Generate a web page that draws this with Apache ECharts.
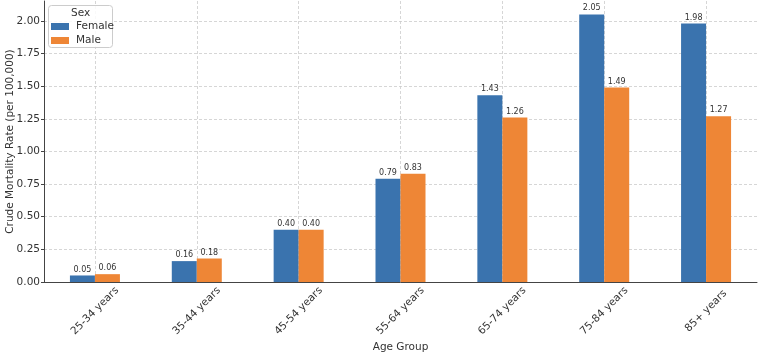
<!DOCTYPE html>
<html>
<head>
<meta charset="utf-8">
<script src="https://cdn.jsdelivr.net/npm/echarts@6/dist/echarts.min.js"></script>
<style>
  html, body { margin: 0; padding: 0; background: #fff; }
  #chart { width: 760px; height: 354px; }
</style>
</head>
<body>
<div id="chart"></div>
<script>
// data
const ageGroups = ["25-34 years", "35-44 years", "45-54 years", "55-64 years", "65-74 years", "75-84 years", "85+ years"];
const femaleRates = [0.05, 0.16, 0.40, 0.79, 1.43, 2.05, 1.98];
const maleRates = [0.06, 0.18, 0.40, 0.83, 1.26, 1.49, 1.27];
const yTicks = [0, 0.25, 0.5, 0.75, 1, 1.25, 1.5, 1.75, 2];

const FONT = "DejaVu Sans";
const chart = echarts.init(document.getElementById("chart"));

function barSeries(name, data, color) {
    return {
        name: name,
        type: "bar",
        data: data,
        barWidth: 25,
        barGap: "0%",
        itemStyle: { color: color },
        label: {
            show: true,
            position: "top",
            distance: 2,
            fontFamily: FONT,
            fontSize: 8,
            color: "#333",
            formatter: p => p.value.toFixed(2)
        }
    };
}

chart.setOption({
    animation: false,
    textStyle: { fontFamily: FONT },
    grid: { left: 44, right: 3, top: 1, bottom: 72, outerBoundsMode: "none", containLabel: false },
    graphic: [{
        type: "rect",
        left: 48, top: 5,
        shape: { width: 64, height: 42, r: 3 },
        style: { fill: "rgba(255,255,255,0.85)", stroke: "#ccc", lineWidth: 1 },
        z: 10
    }, {
        type: "text",
        left: 71, top: 8,
        style: { text: "Sex", font: "10.5px DejaVu Sans", fill: "#333" },
        z: 11
    }],
    legend: {
        left: 51, top: 21,
        padding: 0,
        orient: "vertical",
        itemWidth: 18, itemHeight: 7,
        itemGap: 3,
        icon: "rect",
        z: 12,
        textStyle: { fontFamily: FONT, fontSize: 10.5, color: "#333", padding: [0, 0, 0, 2] },
        data: ["Female", "Male"]
    },
    xAxis: {
        type: "category",
        data: ageGroups,
        name: "Age Group",
        nameLocation: "middle",
        nameGap: 60,
        nameMoveOverlap: false,
        nameTextStyle: { fontFamily: FONT, fontSize: 10.5, color: "#333" },
        axisLine: { lineStyle: { color: "#444", width: 1 } },
        axisTick: { alignWithLabel: true, length: 3, lineStyle: { color: "#444" } },
        axisLabel: {
            rotate: 45, align: "center", verticalAlign: "middle",
            fontFamily: FONT, fontSize: 10.5, color: "#333", margin: 29
        },
        splitLine: { show: true, alignWithLabel: true, lineStyle: { color: "#ccc", type: [3, 2], width: 0.8 } }
    },
    yAxis: {
        type: "value",
        min: 0,
        max: 2.1525,
        interval: 0.25,
        name: "Crude Mortality Rate (per 100,000)",
        nameLocation: "middle",
        nameGap: 28,
        nameMoveOverlap: false,
        nameTextStyle: { fontFamily: FONT, fontSize: 10.5, color: "#333" },
        axisLine: { show: true, lineStyle: { color: "#444", width: 1 } },
        axisTick: { show: true, length: 3, lineStyle: { color: "#444" } },
        axisLabel: {
            fontFamily: FONT, fontSize: 10.5, color: "#333", margin: 4,
            showMaxLabel: false,
            formatter: v => yTicks.indexOf(v) >= 0 ? v.toFixed(2) : ""
        },
        splitLine: { show: true, showMaxLine: false, lineStyle: { color: "#ccc", type: [3, 2], width: 0.8 } }
    },
    series: [
        barSeries("Female", femaleRates, "#3a73ae"),
        barSeries("Male", maleRates, "#ee8636")
    ]
});
</script>
</body>
</html>
